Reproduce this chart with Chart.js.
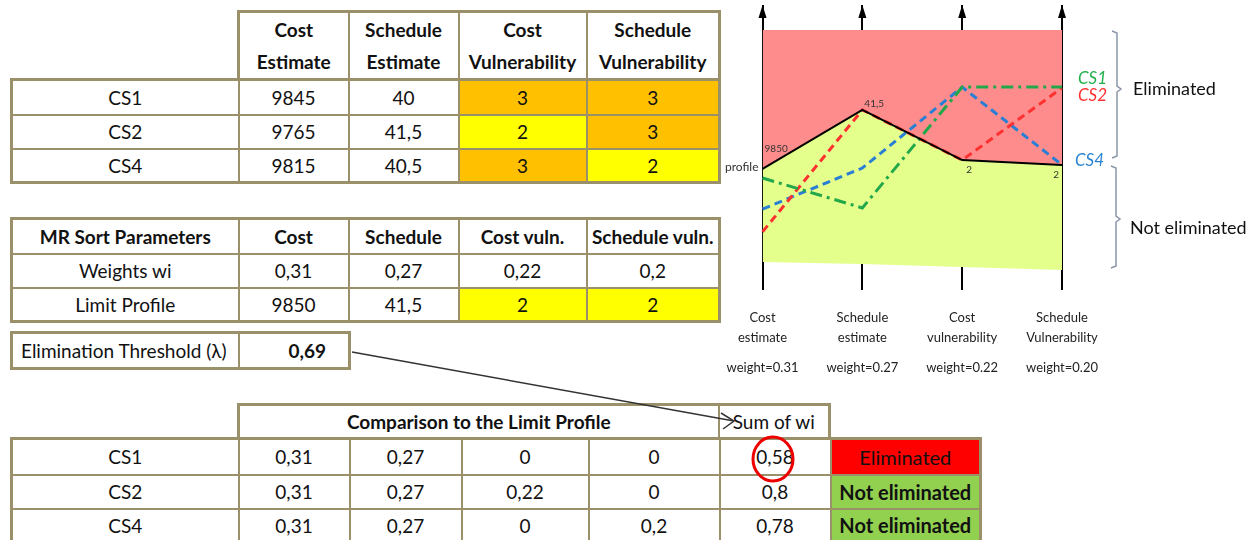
<!DOCTYPE html>
<html>
<head>
<meta charset="utf-8">
<script src="https://cdn.jsdelivr.net/npm/chart.js@4/dist/chart.umd.min.js"></script>
<style>
	body { margin:0; background:#fff; width:1255px; height:540px; overflow:hidden; position:relative; font-family:Lato,'Liberation Sans',sans-serif; }
	table { position:absolute; border-collapse:collapse; table-layout:fixed; border:3px solid #9a9069; }
	td { border:2px solid #9a9069; text-align:center; vertical-align:middle; font-size:19px; padding:0; color:#111; white-space:nowrap; overflow:hidden; }
	td.b { font-weight:bold; }
	td.hd2 { line-height:32px; }
	td.c3 { background:#FFC000; }
	td.c2 { background:#FFFF00; }
	td.elim { background:#FF0000; font-size:20px; }
	td.notelim { background:#92D050; font-size:20px; font-weight:bold; }
	td.lbl { text-align:left; padding-left:8px; }
	td.r { text-align:right; padding-right:22px; }
	#chartBox { position:absolute; left:720px; top:0; width:535px; height:390px; }
	.side { position:absolute; font-size:18px; color:#111; }
	svg { position:absolute; left:0; top:0; z-index:5; pointer-events:none; }
</style>
</head>
<body>
<div id="tables"></div>
<div id="chartBox"><canvas id="chart-mr" width="535" height="390"></canvas></div>
<div class="side" style="left:1133px;top:77px;">Eliminated</div>
<div class="side" style="left:1130px;top:216px;">Not eliminated</div>
<svg width="1255" height="540">
	<path d="M1112,31 L1117,33 L1117,86 L1121,89 L1117,92 L1117,156 L1112,158" fill="none" stroke="#8a96a8" stroke-width="1.5"/>
	<path d="M1111,166 L1116,168 L1116,216 L1120,219 L1116,222 L1116,266 L1111,268" fill="none" stroke="#8a96a8" stroke-width="1.5"/>
	<line x1="352" y1="352" x2="734" y2="421" stroke="#333" stroke-width="1.5"/>
	<polyline points="721,413 734,421 723,429" fill="none" stroke="#333" stroke-width="1.5"/>
	<ellipse cx="773" cy="459" rx="20" ry="22" fill="none" stroke="#e00" stroke-width="3"/>
</svg>
<script>
// data
const alternatives = ['CS1', 'CS2', 'CS4'];
const costEstimate = [9845, 9765, 9815];
const scheduleEstimate = [40, 41.5, 40.5];
const costVuln = [3, 2, 3];
const scheduleVuln = [3, 3, 2];
const weights = [0.31, 0.27, 0.22, 0.2];
const limitProfile = [9850, 41.5, 2, 2];
const threshold = 0.69;
const comparison = [
	[0.31, 0.27, 0, 0],
	[0.31, 0.27, 0.22, 0],
	[0.31, 0.27, 0, 0.2]
];
const sumWi = [0.58, 0.8, 0.78];
const status = ['Eliminated', 'Not eliminated', 'Not eliminated'];

// parallel-axis chart (levels, 0-100)
const axisLabels = [['Cost', 'estimate'], ['Schedule', 'estimate'], ['Cost', 'vulnerability'], ['Schedule', 'Vulnerability']];
const profileLevel = [42.5, 63.2, 45.6, 43.9];
const eliminatedTop = [91.2, 91.2, 91.2, 91.2];
const notEliminatedBottom = [9.8, 9.1, 8.1, 7.0];
const cs1Level = [39.3, 28.8, 71.2, 71.2];
const cs2Level = [20.4, 63.2, 45.6, 70.9];
const cs4Level = [28.4, 42.8, 71.2, 43.9];

function fmt(v) { return String(v).replace('.', ','); }
function vulnCls(v) { return v >= 3 ? 'c3' : 'c2'; }

function buildTable(left, top, widths, heights, rows) {
	let html = '<table style="left:' + left + 'px;top:' + top + 'px;"><colgroup>';
	widths.forEach(w => { html += '<col style="width:' + w + 'px">'; });
	html += '</colgroup>';
	rows.forEach((r, i) => {
		html += '<tr style="height:' + heights[i] + 'px">';
		r.forEach(c => {
			html += '<td class="' + (c.cls || '') + '"' + (c.span ? ' colspan="' + c.span + '"' : '') + '>' + c.text + '</td>';
		});
		html += '</tr>';
	});
	html += '</table>';
	document.getElementById('tables').insertAdjacentHTML('beforeend', html);
}

// table 1
buildTable(237, 10, [110, 110, 128, 133], [68], [[
	{text:'Cost<br>Estimate', cls:'b hd2'}, {text:'Schedule<br>Estimate', cls:'b hd2'},
	{text:'Cost<br>Vulnerability', cls:'b hd2'}, {text:'Schedule<br>Vulnerability', cls:'b hd2'}
]]);
buildTable(10, 78, [227, 110, 110, 128, 133], [35, 34, 34], alternatives.map((a, i) => [
	{text:a}, {text:fmt(costEstimate[i])}, {text:fmt(scheduleEstimate[i])},
	{text:costVuln[i], cls:vulnCls(costVuln[i])}, {text:scheduleVuln[i], cls:vulnCls(scheduleVuln[i])}
]));

// table 2
buildTable(10, 217, [227, 110, 110, 128, 133], [35, 34, 34], [
	[{text:'MR Sort Parameters', cls:'b'}, {text:'Cost', cls:'b'}, {text:'Schedule', cls:'b'}, {text:'Cost vuln.', cls:'b'}, {text:'Schedule vuln.', cls:'b'}],
	[{text:'Weights wi'}].concat(weights.map(w => ({text:fmt(w)}))),
	[{text:'Limit Profile'}].concat(limitProfile.map((v, i) => ({text:fmt(v), cls: i >= 2 ? vulnCls(v) : ''})))
]);

// threshold
buildTable(10, 331, [227, 111], [36], [[{text:'Elimination Threshold (&lambda;)', cls:'lbl'}, {text:fmt(threshold), cls:'b r'}]]);

// table 3
buildTable(237, 403, [480, 111], [34], [[{text:'Comparison to the Limit Profile', cls:'b'}, {text:'Sum of wi'}]]);
buildTable(10, 437, [227, 111, 112, 127, 131, 111, 150], [36, 34, 34], alternatives.map((a, i) => [{text:a}]
	.concat(comparison[i].map(v => ({text:fmt(v)})))
	.concat([{text:fmt(sumWi[i])}, {text:status[i], cls: status[i] == 'Eliminated' ? 'elim' : 'notelim'}])
));

const chartLabels = {
	id: 'chartLabels',
	afterDatasetsDraw(chart) {
		const ctx = chart.ctx;
		const xs = chart.scales.x, ys = chart.scales.y;
		const top = chart.chartArea.top;
		const px = i => xs.getPixelForTick(i);
		ctx.save();
		// arrow heads on the axes
		ctx.fillStyle = '#000';
		axisLabels.forEach((l, i) => {
			ctx.beginPath();
			ctx.moveTo(px(i), top);
			ctx.lineTo(px(i) - 4, top + 13);
			ctx.lineTo(px(i) + 4, top + 13);
			ctx.closePath();
			ctx.fill();
		});
		// profile values
		ctx.font = '12px Lato';
		ctx.fillStyle = '#333';
		ctx.textAlign = 'right';
		ctx.textBaseline = 'middle';
		ctx.fillText('profile', px(0) - 4, ys.getPixelForValue(profileLevel[0]) - 2);
		ctx.font = '10px Lato';
		ctx.textAlign = 'left';
		ctx.fillText(fmt(limitProfile[0]), px(0) + 2, ys.getPixelForValue(profileLevel[0]) - 20);
		ctx.fillText(fmt(limitProfile[1]), px(1) + 2, ys.getPixelForValue(profileLevel[1]) - 6);
		ctx.fillText(fmt(limitProfile[2]), px(2) + 4, ys.getPixelForValue(profileLevel[2]) + 10);
		ctx.textAlign = 'right';
		ctx.fillText(fmt(limitProfile[3]), px(3) - 3, ys.getPixelForValue(profileLevel[3]) + 10);
		// series names
		ctx.font = 'italic 17px Lato';
		ctx.textAlign = 'left';
		ctx.fillStyle = '#22b04b';
		ctx.fillText('CS1', px(3) + 16, ys.getPixelForValue(cs1Level[3]) - 9);
		ctx.fillStyle = '#ff3030';
		ctx.fillText('CS2', px(3) + 16, ys.getPixelForValue(cs2Level[3]) + 8);
		ctx.fillStyle = '#2a84d2';
		ctx.fillText('CS4', px(3) + 13, ys.getPixelForValue(cs4Level[3]) - 4);
		ctx.restore();
	}
};

const configChart = {
	type: 'line',
	data: {
		labels: axisLabels,
		datasets: [
			{ label: 'profile', data: profileLevel, borderColor: '#000', borderWidth: 2, fill: false, order: 1 },
			{ label: 'eliminated', data: eliminatedTop, borderWidth: 0, borderColor: 'rgba(0,0,0,0)', backgroundColor: '#FF8C8C', fill: 0, order: 10 },
			{ label: 'not eliminated', data: notEliminatedBottom, borderWidth: 0, borderColor: 'rgba(0,0,0,0)', backgroundColor: '#E4FF8C', fill: 0, order: 10 },
			{ label: 'CS1', data: cs1Level, borderColor: '#22a84a', borderWidth: 3, borderDash: [12, 5, 3, 5], fill: false, order: 2 },
			{ label: 'CS2', data: cs2Level, borderColor: '#ff3030', borderWidth: 3, borderDash: [8, 5], fill: false, order: 3 },
			{ label: 'CS4', data: cs4Level, borderColor: '#2a7fd4', borderWidth: 3, borderDash: [8, 5], fill: false, order: 4 }
		]
	},
	options: {
		responsive: false,
		animation: false,
		devicePixelRatio: 1,
		layout: { padding: { left: 42, right: 193, top: 5, bottom: 12 } },
		elements: { point: { radius: 0 }, line: { tension: 0 } },
		plugins: { legend: { display: false }, tooltip: { enabled: false } },
		scales: {
			y: { display: false, min: 0, max: 100 },
			x: {
				offset: false,
				z: 1,
				afterFit: function(axis) { axis.height = 58; },
				grid: { color: '#000', lineWidth: 2, drawTicks: false },
				border: { display: false },
				ticks: { color: '#222', font: { family: 'Lato', size: 13, lineHeight: 1.55 }, padding: 18, maxRotation: 0, autoSkip: false }
			},
			x2: {
				type: 'category',
				position: 'bottom',
				labels: weights.map(w => 'weight=' + w.toFixed(2)),
				offset: false,
				afterFit: function(axis) { axis.height = 30; },
				grid: { display: false },
				border: { display: false },
				ticks: { color: '#222', font: { family: 'Lato', size: 13, lineHeight: 1.55 }, padding: 2, maxRotation: 0, autoSkip: false }
			}
		}
	},
	plugins: [chartLabels]
};

const ctx = document.getElementById('chart-mr').getContext('2d');
window.chartMR = new Chart(ctx, configChart);
</script>
</body>
</html>
